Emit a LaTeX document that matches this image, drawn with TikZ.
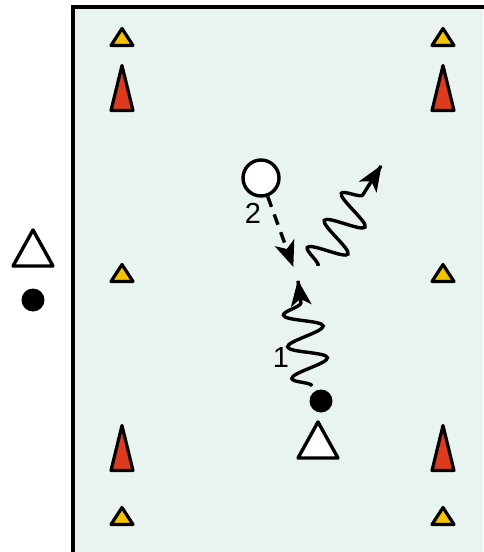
\documentclass[tikz,border=0pt]{standalone}
\usepackage{fontspec}
\setsansfont{Liberation Sans}
\usetikzlibrary{decorations.pathmorphing,decorations.markings,calc}
\definecolor{field}{HTML}{E9F4F1}
\definecolor{coneY}{HTML}{F2C100}
\definecolor{coneR}{HTML}{DD3A1E}
\tikzset{
  px/.style={x=1pt,y=-1pt},
  cone/.pic={\draw[line width=3.2pt,line join=round,fill=#1] (-11,8.5) -- (0,-8.5) -- (11,8.5) -- cycle;},
  tallcone/.pic={\draw[line width=3.2pt,line join=round,fill=#1] (-11,22.5) -- (0,-22.5) -- (11,22.5) -- cycle;},
  bigcone/.pic={\draw[line width=3.4pt,line join=round,fill=white] (-20,18) -- (0,-18) -- (20,18) -- cycle;},
  dotnode/.style={circle,fill=black,inner sep=0pt,minimum size=23pt},
  ballnode/.style={circle,draw,line width=3.4pt,fill=white,inner sep=0pt,minimum size=36pt},
  headmark/.style={postaction={decorate,decoration={markings,mark=at position 1 with {\fill[black] (1,0) -- (-25,10.5) -- (-18,0) -- (-25,-10.5) -- cycle;}}}},
  wave/.style={line width=3.4pt,decorate,decoration={snake,amplitude=19pt,segment length=32pt,pre length=0pt,post length=20pt}},
  lbl/.style={font=\sffamily\fontsize{29}{29}\selectfont,inner sep=0pt}
}
\begin{document}
\begin{tikzpicture}[px]
\useasboundingbox (0,0) rectangle (483,552);
\fill[field] (73,7) rectangle (483,552);
\draw[line width=3.4pt] (73,553) -- (73,7) -- (484,7);
% cones
\pic at (122,37) {cone=coneY};
\pic at (443,37) {cone=coneY};
\pic at (122,273) {cone=coneY};
\pic at (443,273) {cone=coneY};
\pic at (122,516) {cone=coneY};
\pic at (443,516) {cone=coneY};
\pic at (122,88) {tallcone=coneR};
\pic at (443,88) {tallcone=coneR};
\pic at (122,448) {tallcone=coneR};
\pic at (443,448) {tallcone=coneR};
% players
\pic at (33,248) {bigcone};
\node[dotnode] (d0) at (33,300) {};
\pic at (318,440) {bigcone};
\node[dotnode] (d1) at (321,401) {};
\node[ballnode] (b2) at (261,178) {};
% labels
\node[lbl] (l2) at (253,213) {2};
\node[lbl] (l1) at (281,358) {1};
% arrows
\coordinate (s1) at (312,386);
\coordinate (e1) at (298,281);
\coordinate (s2) at (318,266);
\coordinate (e2) at (381,166);
\coordinate (e3) at (293,266);
\coordinate (e3b) at ($(b2.-70)!0.85!(e3)$);
\draw[line width=3.4pt,dash pattern=on 11pt off 8pt] (b2.-70) -- (e3b);
\path[headmark] (b2.-70) -- (e3);
\draw[wave] (s1) -- (e1);
\path[headmark] (s1) -- (e1);
\draw[wave] (s2) -- (e2);
\path[headmark] (s2) -- (e2);
\end{tikzpicture}
\end{document}
